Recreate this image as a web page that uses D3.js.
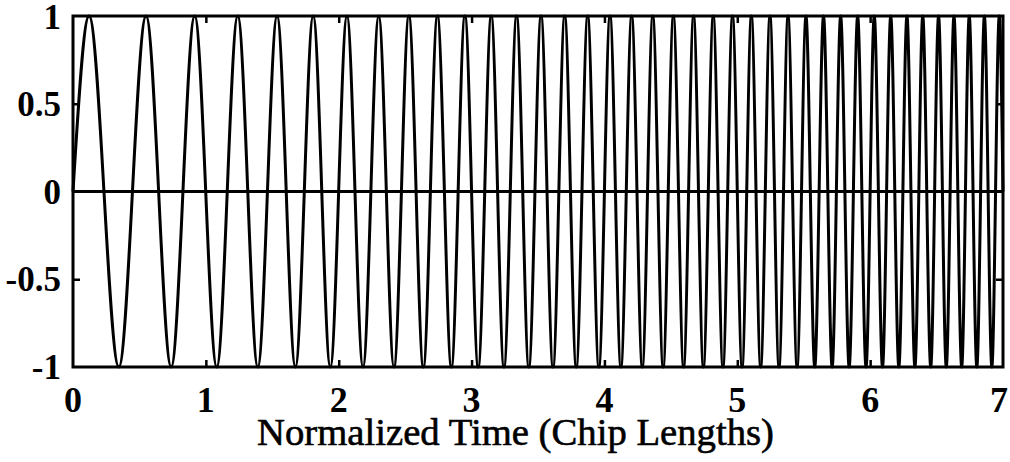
<!DOCTYPE html>
<html>
<head>
<meta charset="utf-8">
<script src="https://cdn.jsdelivr.net/npm/d3@7"></script>
<style>
  html, body { margin: 0; padding: 0; background: #fff; }
  svg { display: block; }
  text { font-family: "Liberation Serif", "Times New Roman", serif; fill: #000; }
</style>
</head>
<body>
<svg id="chart" width="1010" height="462"></svg>
<script>
// ---- data ----
// times (chip lengths) of the successive extrema of the waveform; first is a maximum
const extremaTimes = [
  0.121, 0.345, 0.550, 0.739, 0.916, 1.082, 1.240, 1.391, 1.536, 1.674,
  1.808, 1.937, 2.062, 2.183, 2.301, 2.416, 2.528, 2.637, 2.743, 2.848,
  2.950, 3.050, 3.148, 3.244, 3.339, 3.431, 3.523, 3.613, 3.701, 3.788,
  3.874, 3.958, 4.042, 4.124, 4.205, 4.285, 4.364, 4.442, 4.519, 4.596,
  4.671, 4.745, 4.819, 4.892, 4.964, 5.036, 5.106, 5.176, 5.246, 5.314,
  5.382, 5.450, 5.517, 5.583, 5.649, 5.714, 5.778, 5.842, 5.906, 5.969,
  6.031, 6.093, 6.155, 6.216, 6.277, 6.337, 6.396, 6.456, 6.515, 6.573,
  6.631, 6.689, 6.746, 6.803, 6.860, 6.916, 6.972
];
const extremaValues = extremaTimes.map((_, i) => (i % 2 === 0 ? 1 : -1));
const startPoint = [0, 0];
const endPoint = [7, 0];
const xTicks = [0, 1, 2, 3, 4, 5, 6, 7];
const yTicks = [-1, -0.5, 0, 0.5, 1];
const yTickLabels = ["-1", "-0.5", "0", "0.5", "1"];
const xLabel = "Normalized Time (Chip Lengths)";

// ---- layout ----
const svg = d3.select("#chart");
const L = 73, R = 1003, T = 16, B = 367;
const x = d3.scaleLinear().domain([0, 7]).range([L, R]);
const y = d3.scaleLinear().domain([-1, 1]).range([B, T]);

const pts = [startPoint].concat(extremaTimes.map((t, i) => [t, extremaValues[i]])).concat([endPoint]);

const line = d3.line()
  .x(d => x(d[0]))
  .y(d => y(d[1]))
  .curve(d3.curveMonotoneX);

// zero line
svg.append("line")
  .attr("x1", x(0)).attr("x2", x(7))
  .attr("y1", y(0)).attr("y2", y(0))
  .attr("stroke", "#000").attr("stroke-width", 3);

// waveform
svg.append("path")
  .datum(pts)
  .attr("d", line)
  .attr("fill", "none")
  .attr("stroke", "#000")
  .attr("stroke-width", 3)
  .attr("stroke-linejoin", "round");

// inner ticks via axes
const tickLen = 7;
const gB = svg.append("g").attr("transform", `translate(0,${B})`)
  .call(d3.axisTop(x).tickValues(xTicks.slice(1, -1)).tickSize(tickLen).tickFormat(""));
const gT = svg.append("g").attr("transform", `translate(0,${T})`)
  .call(d3.axisBottom(x).tickValues(xTicks.slice(1, -1)).tickSize(tickLen).tickFormat(""));
const gL = svg.append("g").attr("transform", `translate(${L},0)`)
  .call(d3.axisRight(y).tickValues([-0.5, 0.5]).tickSize(tickLen).tickFormat(""));
const gR = svg.append("g").attr("transform", `translate(${R},0)`)
  .call(d3.axisLeft(y).tickValues([-0.5, 0.5]).tickSize(tickLen).tickFormat(""));
[gB, gT, gL, gR].forEach(g => {
  g.select(".domain").remove();
  g.selectAll("line").attr("stroke", "#000").attr("stroke-width", 2.5);
});

// frame
svg.append("rect")
  .attr("x", L).attr("y", T)
  .attr("width", R - L).attr("height", B - T)
  .attr("fill", "none").attr("stroke", "#000").attr("stroke-width", 3);

// x tick labels
svg.append("g").selectAll("text")
  .data(xTicks).join("text")
  .attr("x", d => d === 7 ? x(d) - 4 : x(d))
  .attr("y", 412)
  .attr("text-anchor", "middle")
  .attr("font-size", 36)
  .attr("font-weight", "bold")
  .text(d => d);

// y tick labels
svg.append("g").selectAll("text")
  .data(yTicks).join("text")
  .attr("x", 61)
  .attr("y", d => y(d) + (d === 1 ? 13 : 12))
  .attr("text-anchor", "end")
  .attr("font-size", 35)
  .attr("font-weight", "bold")
  .text((d, i) => yTickLabels[i]);

// x axis label
svg.append("text")
  .attr("x", 515.5)
  .attr("y", 445)
  .attr("text-anchor", "middle")
  .attr("font-size", 38.7)
  .attr("stroke", "#000")
  .attr("stroke-width", 0.6)
  .text(xLabel);
</script>
</body>
</html>
